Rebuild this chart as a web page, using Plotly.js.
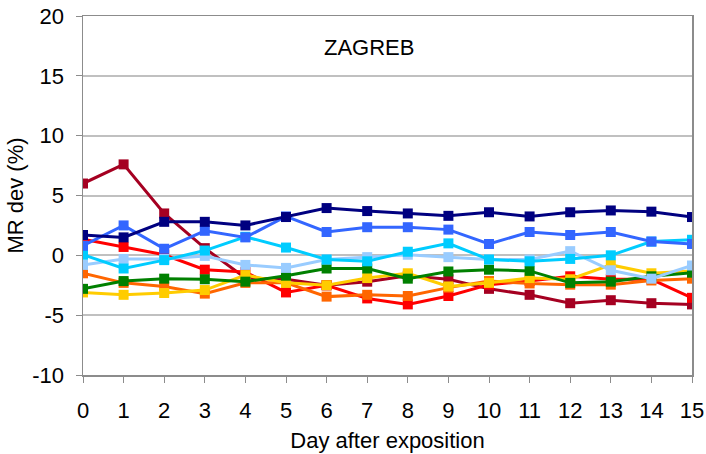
<!DOCTYPE html>
<html>
<head>
<meta charset="utf-8">
<script src="https://cdn.plot.ly/plotly-3.0.1.min.js"></script>
<style>
  html, body { margin: 0; padding: 0; background: #fff; }
  #chart { width: 706px; height: 454px; }
</style>
</head>
<body>
<div id="chart"></div>
<script>
// Days after exposition (x axis)
const days = [0, 1, 2, 3, 4, 5, 6, 7, 8, 9, 10, 11, 12, 13, 14, 15];

// MR deviation (%) per dosimeter, one array per series
const seriesDarkRed  = [6.0, 7.6, 3.5, 0.6, -1.9, -2.0, -2.5, -2.2, -1.7, -2.0, -2.8, -3.3, -4.0, -3.75, -4.0, -4.1];
const seriesRed      = [1.35, 0.7, 0.05, -1.2, -1.4, -3.1, -2.5, -3.6, -4.1, -3.4, -2.45, -2.15, -1.75, -2.0, -2.0, -3.55];
const seriesOrange   = [-1.5, -2.3, -2.6, -3.2, -2.3, -2.3, -3.45, -3.3, -3.4, -2.7, -2.15, -2.35, -2.45, -2.45, -2.1, -1.95];
const seriesYellow   = [-3.1, -3.3, -3.15, -2.9, -1.65, -2.3, -2.5, -1.9, -1.5, -2.6, -2.3, -1.9, -2.0, -0.8, -1.5, -1.3];
const seriesGreen    = [-2.8, -2.15, -1.95, -2.0, -2.2, -1.7, -1.1, -1.1, -1.95, -1.35, -1.2, -1.3, -2.3, -2.2, -1.75, -1.45];
const seriesLightBlue= [-0.8, -0.3, -0.3, -0.05, -0.8, -1.05, -0.35, -0.15, 0.05, -0.15, -0.35, -0.35, 0.35, -1.25, -1.95, -0.85];
const seriesCyan     = [0.05, -1.1, -0.4, 0.4, 1.55, 0.65, -0.35, -0.5, 0.3, 1.0, -0.35, -0.5, -0.3, 0.0, 1.15, 1.3];
const seriesBlue     = [0.8, 2.5, 0.55, 2.05, 1.5, 3.25, 1.95, 2.35, 2.35, 2.15, 0.95, 1.95, 1.7, 1.95, 1.15, 0.95];
const seriesNavy     = [1.7, 1.5, 2.8, 2.8, 2.5, 3.2, 3.95, 3.7, 3.5, 3.3, 3.6, 3.25, 3.6, 3.75, 3.65, 3.2];

// y tick positions and their labels (plain hyphen for negatives)
const yTicks = [-10, -5, 0, 5, 10, 15, 20];
const yTickLabels = ['-10', '-5', '0', '5', '10', '15', '20'];

const series = [
  { name: 'D1', y: seriesDarkRed,   color: '#a50021' },
  { name: 'D2', y: seriesRed,       color: '#ff0000' },
  { name: 'D3', y: seriesOrange,    color: '#ff6600' },
  { name: 'D4', y: seriesYellow,    color: '#ffcc00' },
  { name: 'D5', y: seriesGreen,     color: '#008000' },
  { name: 'D6', y: seriesLightBlue, color: '#99ccff' },
  { name: 'D7', y: seriesCyan,      color: '#00ccff' },
  { name: 'D8', y: seriesBlue,      color: '#3366ff' },
  { name: 'D9', y: seriesNavy,      color: '#000080' }
];

const traces = series.map(s => ({
  type: 'scatter',
  mode: 'lines+markers',
  name: s.name,
  x: days,
  y: s.y,
  line: { color: s.color, width: 3 },
  marker: { color: s.color, symbol: 'square', size: 10 }
}));

const font = { family: '"Liberation Sans", Arial, sans-serif', color: '#000' };

const layout = {
  width: 706,
  height: 454,
  margin: { l: 82.5, r: 14.3, t: 16, b: 79 },
  paper_bgcolor: '#fff',
  plot_bgcolor: '#fff',
  showlegend: false,
  font: Object.assign({ size: 22 }, font),
  xaxis: {
    range: [0, 15],
    tickvals: days,
    showgrid: false,
    zeroline: false,
    showline: true,
    linecolor: '#8c8c8c',
    linewidth: 1.5,
    mirror: true,
    ticks: 'outside',
    ticklen: 6,
    tickcolor: '#8c8c8c',
    ticklabelstandoff: 9,
    tickfont: Object.assign({ size: 22 }, font),
    title: { text: 'Day after exposition', font: Object.assign({ size: 22 }, font), standoff: 10 }
  },
  yaxis: {
    range: [-10, 20],
    tickvals: yTicks,
    ticktext: yTickLabels,
    showgrid: true,
    gridcolor: '#c0c0c0',
    gridwidth: 2,
    zeroline: false,
    showline: true,
    linecolor: '#8c8c8c',
    linewidth: 1.5,
    mirror: true,
    ticks: 'outside',
    ticklen: 6,
    tickcolor: '#8c8c8c',
    ticklabelstandoff: 7,
    tickfont: Object.assign({ size: 22 }, font),
    title: { text: 'MR dev (%)', font: Object.assign({ size: 22 }, font), standoff: 2 }
  },
  annotations: [{
    text: 'ZAGREB',
    xref: 'paper', yref: 'paper',
    x: (368.7 - 82.5) / (691.7 - 82.5), y: 1 - (47.5 - 16) / 359,
    xanchor: 'center', yanchor: 'middle',
    showarrow: false,
    font: Object.assign({ size: 22 }, font)
  }]
};

Plotly.newPlot('chart', traces, layout, { staticPlot: true, displayModeBar: false });
</script>
</body>
</html>
